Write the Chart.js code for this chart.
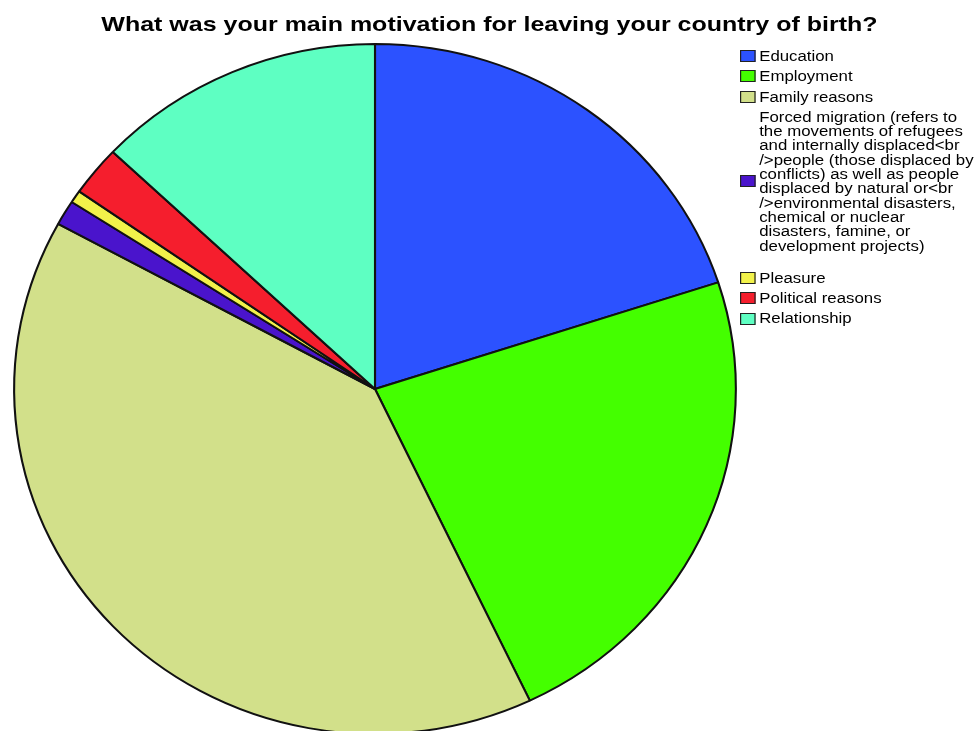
<!DOCTYPE html>
<html>
<head>
<meta charset="utf-8">
<script src="https://cdn.jsdelivr.net/npm/chart.js@4.4.1/dist/chart.umd.min.js"></script>
<style>
    html, body { margin: 0; padding: 0; background: #fff; }
    #wrap { position: relative; width: 980px; height: 731px; overflow: hidden; }
    #pie { position: absolute; left: 0; top: 0; }
    #title {
        position: absolute; left: 0; top: 12px; width: 980px; text-align: center;
        font: bold 21px "Liberation Sans", Arial, sans-serif; color: #000;
        transform: scaleX(1.19); transform-origin: 493px 0;
        white-space: nowrap; line-height: 24px;
    }
    #legend {
        position: absolute; left: 740px; top: 46px;
        font: 14px "Liberation Sans", Arial, sans-serif; color: #000;
        transform: scaleX(1.2); transform-origin: 0 0;
    }
    .item { display: flex; align-items: center; padding: 3px 0; line-height: 14.3px; }
    .item .box { width: 13px; height: 12px; border: 1.5px solid #222; box-sizing: border-box; flex: none; margin-right: 3px; }
    .item .txt { width: 182px; }
    .item.long { margin-bottom: 12px; }
</style>
</head>
<body>
<div id="wrap">
    <canvas id="pie" width="980" height="780"></canvas>
    <div id="title">What was your main motivation for leaving your country of birth?</div>
    <div id="legend"></div>
</div>
<script>
// Data
const categories = [
    'Education',
    'Employment',
    'Family reasons',
    'Forced migration (refers to the movements of refugees and internally displaced<br />people (those displaced by conflicts) as well as people displaced by natural or<br />environmental disasters, chemical or nuclear disasters, famine, or development projects)',
    'Pleasure',
    'Political reasons',
    'Relationship'
];
const counts = [34, 39, 68, 2, 1, 4, 22];
const colors = ['#2c52ff', '#44ff00', '#d2e08a', '#4a14cc', '#f2f24a', '#f51e2d', '#5effc2'];

// the original pie is a bit wider than tall
const SX = 1.046;
const stretchPlugin = {
    id: 'stretch',
    beforeDatasetsDraw(chart) {
        const ctx = chart.ctx;
        const a = chart.chartArea;
        const cx = (a.left + a.right) / 2;
        ctx.save();
        ctx.translate(cx, 0);
        ctx.scale(SX, 1);
        ctx.translate(-cx, 0);
    },
    afterDatasetsDraw(chart) {
        chart.ctx.restore();
    }
};

new Chart(document.getElementById('pie'), {
    type: 'pie',
    data: {
        labels: categories,
        datasets: [{
            data: counts,
            backgroundColor: colors,
            borderColor: '#111',
            borderWidth: 2
        }]
    },
    options: {
        responsive: false,
        devicePixelRatio: 1,
        animation: false,
        layout: { padding: { left: 29, right: 259, top: 43, bottom: 45 } },
        plugins: {
            legend: { display: false },
            title: { display: false },
            tooltip: { enabled: false }
        }
    },
    plugins: [stretchPlugin]
});

// Legend
const legend = document.getElementById('legend');
categories.forEach((label, i) => {
    const item = document.createElement('div');
    item.className = 'item' + (label.length > 40 ? ' long' : '');
    const box = document.createElement('span');
    box.className = 'box';
    box.style.background = colors[i];
    const txt = document.createElement('span');
    txt.className = 'txt';
    txt.textContent = label;
    item.appendChild(box);
    item.appendChild(txt);
    legend.appendChild(item);
});
</script>
</body>
</html>
